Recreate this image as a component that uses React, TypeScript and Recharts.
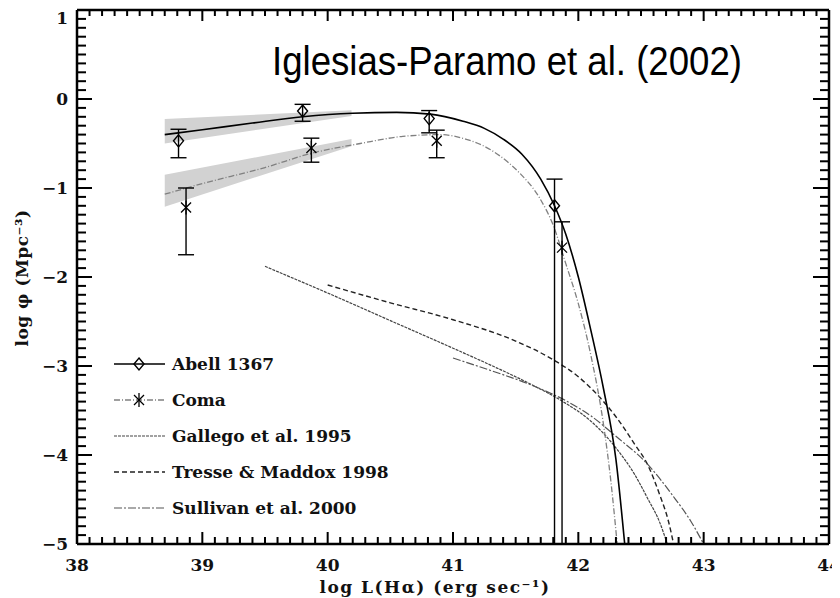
import { ComposedChart, Line, Area, Scatter, ErrorBar, XAxis, YAxis, ReferenceLine } from 'recharts';

// axis ticks (labelled majors, minors every 0.1 in between)
const xMajor = [38, 39, 40, 41, 42, 43, 44];
const yMajor = [-5, -4, -3, -2, -1, 0, 1];

// Abell 1367 points with error bar limits
const abellX = [38.81, 39.8, 40.81, 41.81];
const abellY = [-0.47, -0.135, -0.22, -1.2];
const abellLo = [-0.66, -0.25, -0.38, -5.0];
const abellHi = [-0.34, -0.06, -0.13, -0.9];

// Coma points with error bar limits
const comaX = [38.87, 39.87, 40.87, 41.87];
const comaY = [-1.22, -0.55, -0.47, -1.67];
const comaLo = [-1.75, -0.71, -0.66, -5.0];
const comaHi = [-1.0, -0.44, -0.35, -1.38];

// shaded uncertainty wedges on the faint-end slope
const bandX = [38.7, 40.19];
const abellBandLo = [-0.5, -0.19];
const abellBandHi = [-0.225, -0.125];
const comaBandLo = [-1.21, -0.53];
const comaBandHi = [-0.85, -0.45];

// Schechter fits
const abellFitX = [38.7, 39.0, 39.4, 39.8, 40.2, 40.55, 40.82, 41.08, 41.25, 41.4, 41.55, 41.7, 41.81, 41.9, 42.0, 42.1, 42.2, 42.3, 42.37];
const abellFitY = [-0.4, -0.345, -0.27, -0.2, -0.16, -0.15, -0.17, -0.25, -0.33, -0.45, -0.62, -0.9, -1.2, -1.52, -2.0, -2.6, -3.25, -4.05, -5.0];

const comaFitX = [38.7, 39.0, 39.5, 39.87, 40.26, 40.6, 40.9, 41.1, 41.3, 41.43, 41.53, 41.69, 41.8, 41.9, 42.0, 42.1, 42.2, 42.26, 42.31];
const comaFitY = [-1.07, -0.95, -0.77, -0.61, -0.5, -0.42, -0.4, -0.45, -0.57, -0.7, -0.83, -1.11, -1.42, -1.85, -2.3, -2.88, -3.65, -4.3, -5.0];

// field luminosity functions
const gallegoX = [39.5, 40.0, 40.5, 41.0, 41.3, 41.6, 41.9, 42.1, 42.3, 42.45, 42.55, 42.65, 42.71];
const gallegoY = [-1.88, -2.18, -2.49, -2.8, -2.99, -3.19, -3.42, -3.62, -3.92, -4.22, -4.48, -4.76, -5.0];

const tresseX = [40.0, 40.5, 41.0, 41.5, 41.8, 42.0, 42.15, 42.3, 42.45, 42.55, 42.65, 42.72, 42.76];
const tresseY = [-2.09, -2.29, -2.48, -2.72, -2.93, -3.12, -3.32, -3.57, -3.88, -4.1, -4.45, -4.75, -5.0];

const sullivanX = [41.0, 41.3, 41.6, 41.9, 42.1, 42.3, 42.55, 42.75, 42.9, 43.0];
const sullivanY = [-2.91, -3.05, -3.2, -3.39, -3.56, -3.79, -4.1, -4.45, -4.75, -5.0];

const X_MIN = 38, X_MAX = 44, Y_MIN = -5, Y_MAX = 1;

const withMinor = (major: number[]) => {
  const out: number[] = [];
  for (let i = 0; i < major.length - 1; i++)
    for (let k = 0; k < 10; k++) out.push(+(major[i] + k * 0.1).toFixed(1));
  out.push(major[major.length - 1]);
  return out;
};
const xTicks = withMinor(xMajor);
const yTicks = withMinor(yMajor);

const isMajor = (v: number) => Math.abs(v - Math.round(v)) < 1e-6;
const fmt = (v: number) => (v < 0 ? '\u2212' + Math.abs(Math.round(v)) : String(Math.round(v)));

const pts = (xs: number[], ys: number[]) => xs.map((x, i) => ({ x, y: ys[i] }));
const withErr = (xs: number[], ys: number[], lo: number[], hi: number[]) =>
  xs.map((x, i) => ({ x, y: ys[i], err: [ys[i] - lo[i], hi[i] - ys[i]] }));

const bandData = bandX.map((x, i) => ({
  x,
  abellBand: [abellBandLo[i], abellBandHi[i]],
  comaBand: [comaBandLo[i], comaBandHi[i]],
}));

// plot box inside the svg (margins + axis sizes)
const W = 832, H = 590;
const MARGIN = { top: 2, right: 11, bottom: 0, left: 0 };
const Y_AXIS_W = 69, X_AXIS_H = 54;
const box = {
  left: MARGIN.left + Y_AXIS_W,
  top: MARGIN.top,
  right: W - MARGIN.right,
  bottom: H - MARGIN.bottom - X_AXIS_H,
};
const px = (v: number) => box.left + ((v - X_MIN) / (X_MAX - X_MIN)) * (box.right - box.left);
const py = (v: number) => box.bottom - ((v - Y_MIN) / (Y_MAX - Y_MIN)) * (box.bottom - box.top);

const serif = { fontFamily: '"DejaVu Serif", serif', fontWeight: 700, fontSize: 17, fill: '#111' };

const BottomLabel = ({ x, y, payload }: any) => (
  <text x={x} y={y + 27} textAnchor="middle" style={serif}>
    {fmt(payload.value)}
  </text>
);

const LeftLabel = ({ x, y, payload }: any) => (
  <text x={x - 9} y={Math.max(y + 6, 16)} textAnchor="end" style={serif}>
    {fmt(payload.value)}
  </text>
);

// inward ticks on all four sides, laid over the chart
const FrameTicks = () => {
  const segs: JSX.Element[] = [];
  xTicks.forEach((v) => {
    const x = px(v);
    const maj = isMajor(v);
    segs.push(<rect key={`b${v}`} x={x - 1} y={box.bottom - (maj ? 12 : 7)} width={2} height={maj ? 12 : 7} />);
    segs.push(<rect key={`t${v}`} x={x - 1} y={box.top} width={2} height={maj ? 11 : 6} />);
  });
  yTicks.forEach((v) => {
    const y = py(v);
    const maj = isMajor(v);
    segs.push(<rect key={`l${v}`} x={box.left} y={y - 1} width={maj ? 15 : 9} height={2} />);
    segs.push(<rect key={`r${v}`} x={box.right - (maj ? 16 : 9)} y={y - 1} width={maj ? 16 : 9} height={2} />);
  });
  return (
    <svg width={W} height={H} style={{ position: 'absolute', left: 0, top: 0, pointerEvents: 'none' }}>
      <g fill="#000">{segs}</g>
    </svg>
  );
};

const Diamond = ({ cx, cy }: any) => (
  <path
    d={`M${cx},${cy - 6}L${cx + 5},${cy}L${cx},${cy + 6}L${cx - 5},${cy}Z`}
    fill="none"
    stroke="#000"
    strokeWidth={1.4}
  />
);

const Star = ({ cx, cy }: any) => (
  <g stroke="#000" strokeWidth={1.3}>
    <line x1={cx} x2={cx} y1={cy - 7} y2={cy + 7} />
    <line x1={cx - 5} x2={cx + 5} y1={cy - 5} y2={cy + 5} />
    <line x1={cx - 5} x2={cx + 5} y1={cy + 5} y2={cy - 5} />
  </g>
);

const styles = {
  abell: { stroke: '#000', strokeWidth: 1.6, strokeDasharray: undefined },
  coma: { stroke: '#808080', strokeWidth: 1.3, strokeDasharray: '6 2 1 2' },
  gallego: { stroke: '#444', strokeWidth: 1.2, strokeDasharray: '3 1' },
  tresse: { stroke: '#222', strokeWidth: 1.4, strokeDasharray: '5 3' },
  sullivan: { stroke: '#555', strokeWidth: 1.2, strokeDasharray: '8 2 2 2' },
};

const legendItems = [
  { name: 'Abell 1367', style: styles.abell, marker: 'diamond' },
  { name: 'Coma', style: styles.coma, marker: 'star' },
  { name: 'Gallego et al. 1995', style: styles.gallego, marker: '' },
  { name: 'Tresse & Maddox 1998', style: styles.tresse, marker: '' },
  { name: 'Sullivan et al. 2000', style: styles.sullivan, marker: '' },
];

// key drawn in the lower-left corner of the plot
const LegendKey = ({ left, top }: { left: number; top: number }) => (
  <g transform={`translate(${left},${top})`}>
    {legendItems.map((it, i) => {
      const y = 18 + i * 36;
      return (
        <g key={it.name}>
          <line x1={0} x2={51} y1={y} y2={y} {...it.style} />
          {it.marker === 'diamond' && <Diamond cx={25} cy={y} />}
          {it.marker === 'star' && <Star cx={25} cy={y} />}
          <text x={58} y={y + 6} style={serif}>
            {it.name}
          </text>
        </g>
      );
    })}
  </g>
);

export default function App() {
  return (
    <div style={{ position: 'relative', width: W, height: H }}>
      <ComposedChart width={W} height={H} data={bandData} margin={MARGIN}>
        <XAxis
          dataKey="x"
          type="number"
          domain={[X_MIN, X_MAX]}
          ticks={xMajor}
          interval={0}
          allowDataOverflow
          tickLine={false}
          tickSize={0}
          tickMargin={0}
          tick={BottomLabel}
          height={X_AXIS_H}
          axisLine={{ stroke: '#000', strokeWidth: 2.5 }}
        />
        <YAxis
          type="number"
          domain={[Y_MIN, Y_MAX]}
          ticks={yMajor}
          interval={0}
          allowDataOverflow
          tickLine={false}
          tickSize={0}
          tickMargin={0}
          tick={LeftLabel}
          width={Y_AXIS_W}
          axisLine={{ stroke: '#000', strokeWidth: 2.5 }}
        />

        {/* top and right frame */}
        <ReferenceLine y={Y_MAX} stroke="#000" strokeWidth={2.5} ifOverflow="visible" />
        <ReferenceLine x={X_MAX} stroke="#000" strokeWidth={2.5} ifOverflow="visible" />

        <Area dataKey="abellBand" type="linear" stroke="none" fill="#d2d2d2" fillOpacity={1} isAnimationActive={false} legendType="none" />
        <Area dataKey="comaBand" type="linear" stroke="none" fill="#d2d2d2" fillOpacity={1} isAnimationActive={false} legendType="none" />

        <Line data={pts(gallegoX, gallegoY)} dataKey="y" type="monotone" dot={false} {...styles.gallego} isAnimationActive={false} legendType="none" />
        <Line data={pts(tresseX, tresseY)} dataKey="y" type="monotone" dot={false} {...styles.tresse} isAnimationActive={false} legendType="none" />
        <Line data={pts(sullivanX, sullivanY)} dataKey="y" type="monotone" dot={false} {...styles.sullivan} isAnimationActive={false} legendType="none" />
        <Line data={pts(comaFitX, comaFitY)} dataKey="y" type="monotone" dot={false} {...styles.coma} isAnimationActive={false} legendType="none" />
        <Line data={pts(abellFitX, abellFitY)} dataKey="y" type="monotone" dot={false} {...styles.abell} isAnimationActive={false} legendType="none" />

        <Scatter data={withErr(abellX, abellY, abellLo, abellHi)} dataKey="y" shape={Diamond} isAnimationActive={false} legendType="none">
          <ErrorBar dataKey="err" direction="y" width={8} stroke="#000" strokeWidth={1.4} />
        </Scatter>
        <Scatter data={withErr(comaX, comaY, comaLo, comaHi)} dataKey="y" shape={Star} isAnimationActive={false} legendType="none">
          <ErrorBar dataKey="err" direction="y" width={8} stroke="#000" strokeWidth={1.4} />
        </Scatter>

        <LegendKey left={106} top={338} />

        <text x={264} y={67} textLength={470} lengthAdjust="spacingAndGlyphs" style={{ fontFamily: '"Liberation Sans", Arial, sans-serif', fontSize: 40, fill: '#000' }}>
          Iglesias-Paramo et al. (2002)
        </text>
        <text x={427} y={585} textAnchor="middle" style={{ ...serif, letterSpacing: 1.5 }}>
          log L(Hα) (erg sec⁻¹)
        </text>
        <text transform="translate(20,270) rotate(-90)" textAnchor="middle" style={{ ...serif, letterSpacing: 0.5 }}>
          log φ (Mpc⁻³)
        </text>
      </ComposedChart>
      <FrameTicks />
    </div>
  );
}
